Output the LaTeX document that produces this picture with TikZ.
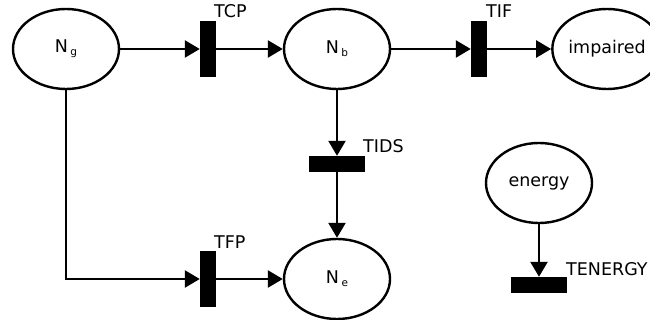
\documentclass[tikz,border=0pt]{standalone}
\usepackage{fontspec}
\setmainfont{DejaVu Sans}
\usetikzlibrary{shapes.geometric,arrows.meta}
\tikzset{
  place/.style={draw, ellipse, line width=2.4pt, inner sep=0pt, minimum width=106pt, minimum height=80pt, font=\fontsize{17.5}{20}\selectfont},
  vbar/.style={fill=black, draw=none, minimum width=16pt, minimum height=56pt, inner sep=0pt},
  hbar/.style={fill=black, draw=none, minimum width=56pt, minimum height=16pt, inner sep=0pt},
  tlabel/.style={anchor=base west, inner sep=0pt, font=\fontsize{17.5}{20}\selectfont},
  arc/.style={line width=2.4pt, -{Triangle[length=15pt,width=17pt]}},
}
\newcommand{\Nsub}[1]{N\hspace{2.5pt}\raisebox{-3pt}{\fontsize{10.5}{12}\selectfont #1}}
\begin{document}
\begin{tikzpicture}[x=1pt,y=-1pt]
\useasboundingbox (0,0) rectangle (650,320);
\clip (0,0) rectangle (650,320);
\node[place] (Ng) at (66,49) {\Nsub{g}};
\node[place] (Nb) at (337,49) {\Nsub{b}};
\node[place] (imp) at (607,49) {impaired};
\node[place] (Ne) at (337,279) {\Nsub{e}};
\node[place] (en) at (539,183) {energy};
\node[vbar] (TCP) at (208,49) {};
\node[vbar] (TIF) at (479,49) {};
\node[vbar] (TFP) at (208,279) {};
\node[hbar] (TIDS) at (337,164) {};
\node[hbar] (TEN) at (539,285) {};
\node[tlabel] (lTCP) at (214,18) {TCP};
\node[tlabel] (lTIF) at (486,18) {TIF};
\node[tlabel] (lTIDS) at (363,153) {TIDS};
\node[tlabel] (lTFP) at (214,248) {TFP};
\node[tlabel] (lTEN) at (566,275) {TENERGY};
\draw[arc] (Ng.east) -- (TCP.west);
\draw[arc] (TCP.east) -- (Nb.west);
\draw[arc] (Nb.east) -- (TIF.west);
\draw[arc] (TIF.east) -- (imp.west);
\draw[arc] (Nb.south) -- (TIDS.north);
\draw[arc] (TIDS.south) -- (Ne.north);
\draw[arc] (Ng.south) |- (TFP.west);
\draw[arc] (TFP.east) -- (Ne.west);
\draw[arc] (en.south) -- (TEN.north);
\end{tikzpicture}
\end{document}
